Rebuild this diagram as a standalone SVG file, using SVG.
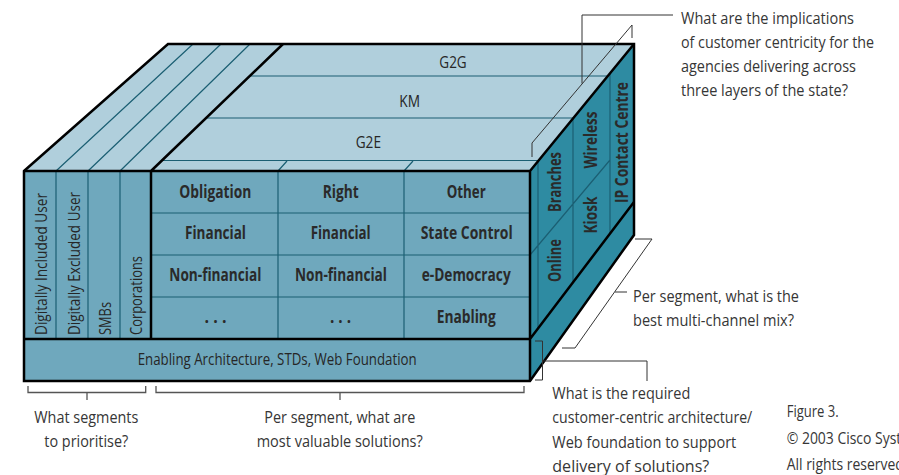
<svg xmlns="http://www.w3.org/2000/svg" width="899" height="475" viewBox="0 0 899 475">
<style>
.top{fill:#b0cfdc}
.front{fill:#6fa8bd}
.side{fill:#2e8ba2}
.thin{stroke:#1b5f73;stroke-width:1.2;fill:none}
.thick{stroke:#000;stroke-width:2.5;fill:none;stroke-linejoin:miter}
.ann{stroke:#333;stroke-width:1;fill:none}
.brk{stroke:#555;stroke-width:1.3;fill:none}
text{font-family:"Open Sans","Noto Sans","Liberation Sans",sans-serif}
.lbl{font-size:17px;fill:#262626}
.b{font-weight:bold;fill:#2a2a2a}
.note{font-size:17px;fill:#363636}
.cap{font-size:15.5px;fill:#363636}
</style>

<g id="box-faces">
  <polygon class="top" points="24,171 168,44 283,44 151,171"/>
  <polygon class="top" points="151,171 283,44 634,44 530,171"/>
  <polygon class="side" points="530,171 634,44 634,235 530,381"/>
  <rect class="front" x="24" y="171" width="506" height="210"/>
</g>

<g id="grid-lines">
  <path class="thin" d="M56,171 L193,44 M88,171 L221,44 M120,171 L250,44"/>
  <path class="thin" d="M249.5,76 H608 M205.5,118 H573.4 M161.5,160.5 H539"/>
  <path class="thin" d="M278,171 L287,161 M404,171 L413,161"/>
  <path class="thin" d="M56,171 V339 M88,171 V339 M120,171 V339"/>
  <path class="thin" d="M278,171 V339 M404,171 V339 M151,213 H530 M151,255 H530 M151,297 H530"/>
  <path class="thin" d="M538,161 V328.5 M573,118.5 V282.5 M610,73 V234 M530,255 L610,160"/>
  <path class="thick" d="M24,171 L168,44 H634 V235 L530,381 H24 Z"/>
  <path class="thick" d="M24,171 H530 M530,171 L634,44 M530,171 V381 M151,171 L283,44 M151,171 V339 M24,339 H530 M530,339 L634,202"/>
</g>

<g id="layers">
  <text class="lbl" x="439.3" y="68" textLength="27.4" lengthAdjust="spacingAndGlyphs">G2G</text>
  <text class="lbl" x="399.3" y="107.3" textLength="20.7" lengthAdjust="spacingAndGlyphs">KM</text>
  <text class="lbl" x="355.7" y="148.3" textLength="25.3" lengthAdjust="spacingAndGlyphs">G2E</text>
</g>

<g id="segments">
  <text class="lbl" transform="translate(47,335) rotate(-90)" textLength="142" lengthAdjust="spacingAndGlyphs">Digitally Included User</text>
  <text class="lbl" transform="translate(79.5,335) rotate(-90)" textLength="143" lengthAdjust="spacingAndGlyphs">Digitally Excluded User</text>
  <text class="lbl" transform="translate(110.5,335) rotate(-90)" textLength="33" lengthAdjust="spacingAndGlyphs">SMBs</text>
  <text class="lbl" transform="translate(142,335) rotate(-90)" textLength="79" lengthAdjust="spacingAndGlyphs">Corporations</text>
</g>

<g id="solutions">
  <text class="lbl b" x="179.3" y="197.5" textLength="72" lengthAdjust="spacingAndGlyphs">Obligation</text>
  <text class="lbl b" x="322.7" y="197.5" textLength="36" lengthAdjust="spacingAndGlyphs">Right</text>
  <text class="lbl b" x="446.7" y="197.5" textLength="39" lengthAdjust="spacingAndGlyphs">Other</text>
  <text class="lbl b" x="185" y="239" textLength="61" lengthAdjust="spacingAndGlyphs">Financial</text>
  <text class="lbl b" x="310.7" y="239" textLength="60" lengthAdjust="spacingAndGlyphs">Financial</text>
  <text class="lbl b" x="420.7" y="239" textLength="92" lengthAdjust="spacingAndGlyphs">State Control</text>
  <text class="lbl b" x="169.3" y="280.5" textLength="92" lengthAdjust="spacingAndGlyphs">Non-financial</text>
  <text class="lbl b" x="295" y="280.5" textLength="92" lengthAdjust="spacingAndGlyphs">Non-financial</text>
  <text class="lbl b" x="421.7" y="280.5" textLength="89" lengthAdjust="spacingAndGlyphs">e-Democracy</text>
  <text class="lbl b" x="204.5" y="323" textLength="22" lengthAdjust="spacingAndGlyphs">. . .</text>
  <text class="lbl b" x="330" y="323" textLength="21" lengthAdjust="spacingAndGlyphs">. . .</text>
  <text class="lbl b" x="436.7" y="323" textLength="59" lengthAdjust="spacingAndGlyphs">Enabling</text>
</g>

<g id="channels">
  <text class="lbl b" transform="translate(561,212) rotate(-90)" textLength="60" lengthAdjust="spacingAndGlyphs">Branches</text>
  <text class="lbl b" transform="translate(561,282) rotate(-90)" textLength="43" lengthAdjust="spacingAndGlyphs">Online</text>
  <text class="lbl b" transform="translate(597,168.5) rotate(-90)" textLength="57" lengthAdjust="spacingAndGlyphs">Wireless</text>
  <text class="lbl b" transform="translate(597,233.5) rotate(-90)" textLength="37" lengthAdjust="spacingAndGlyphs">Kiosk</text>
  <text class="lbl b" transform="translate(628,203) rotate(-90)" textLength="121" lengthAdjust="spacingAndGlyphs">IP Contact Centre</text>
</g>

<g id="foundation">
  <text class="lbl" x="137.7" y="365" textLength="279" lengthAdjust="spacingAndGlyphs">Enabling Architecture, STDs, Web Foundation</text>
</g>

<g id="connectors">
  <polyline class="ann" points="673,15 582,15 582,83.5"/>
  <polyline class="ann" points="632,38 632,25 532,143 532,157"/>
  <polyline class="ann" points="635,239 652,239 575,348 562,348"/>
  <line class="ann" x1="615" y1="292" x2="627" y2="292"/>
  <polyline class="ann" points="535,341 542.5,341 542.5,380 535,380"/>
  <polyline class="ann" points="542.5,361 647,361 647,381"/>
  <polyline class="brk" points="28,386 28,392.5 145.7,392.5 145.7,386"/>
  <line class="brk" x1="87" y1="392.5" x2="87" y2="400"/>
  <polyline class="brk" points="156,386 156,392.5 524,392.5 524,386"/>
  <line class="brk" x1="340" y1="392.5" x2="340" y2="400"/>
</g>

<g id="note-implications">
  <text class="note" x="681" y="24" textLength="173" lengthAdjust="spacingAndGlyphs">What are the implications</text>
  <text class="note" x="681" y="48" textLength="193" lengthAdjust="spacingAndGlyphs">of customer centricity for the</text>
  <text class="note" x="681" y="72" textLength="175" lengthAdjust="spacingAndGlyphs">agencies delivering across</text>
  <text class="note" x="681" y="96" textLength="167" lengthAdjust="spacingAndGlyphs">three layers of the state?</text>
</g>
<g id="note-channel-mix">
  <text class="note" x="633" y="301.7" textLength="166" lengthAdjust="spacingAndGlyphs">Per segment, what is the</text>
  <text class="note" x="633" y="325.5" textLength="161" lengthAdjust="spacingAndGlyphs">best multi-channel mix?</text>
</g>
<g id="note-segments">
  <text class="note" x="34.3" y="423.3" textLength="104" lengthAdjust="spacingAndGlyphs">What segments</text>
  <text class="note" x="44.3" y="446.7" textLength="84" lengthAdjust="spacingAndGlyphs">to prioritise?</text>
</g>
<g id="note-solutions">
  <text class="note" x="264.3" y="423.3" textLength="151" lengthAdjust="spacingAndGlyphs">Per segment, what are</text>
  <text class="note" x="256.7" y="446.7" textLength="166" lengthAdjust="spacingAndGlyphs">most valuable solutions?</text>
</g>
<g id="note-architecture">
  <text class="note" x="552.3" y="399" textLength="138" lengthAdjust="spacingAndGlyphs">What is the required</text>
  <text class="note" x="552.3" y="423" textLength="200" lengthAdjust="spacingAndGlyphs">customer-centric architecture/</text>
  <text class="note" x="552.3" y="447.5" textLength="184" lengthAdjust="spacingAndGlyphs">Web foundation to support</text>
  <text class="note" x="552.3" y="471.5" textLength="157" lengthAdjust="spacingAndGlyphs">delivery of solutions?</text>
</g>
<g id="caption">
  <text class="cap" x="786.7" y="417.3" textLength="52" lengthAdjust="spacingAndGlyphs">Figure 3.</text>
  <text class="cap" transform="translate(786.7,444) scale(0.9,1)">© 2003 Cisco Systems</text>
  <text class="cap" transform="translate(786.7,470) scale(0.9,1)">All rights reserved.</text>
</g>
</svg>
